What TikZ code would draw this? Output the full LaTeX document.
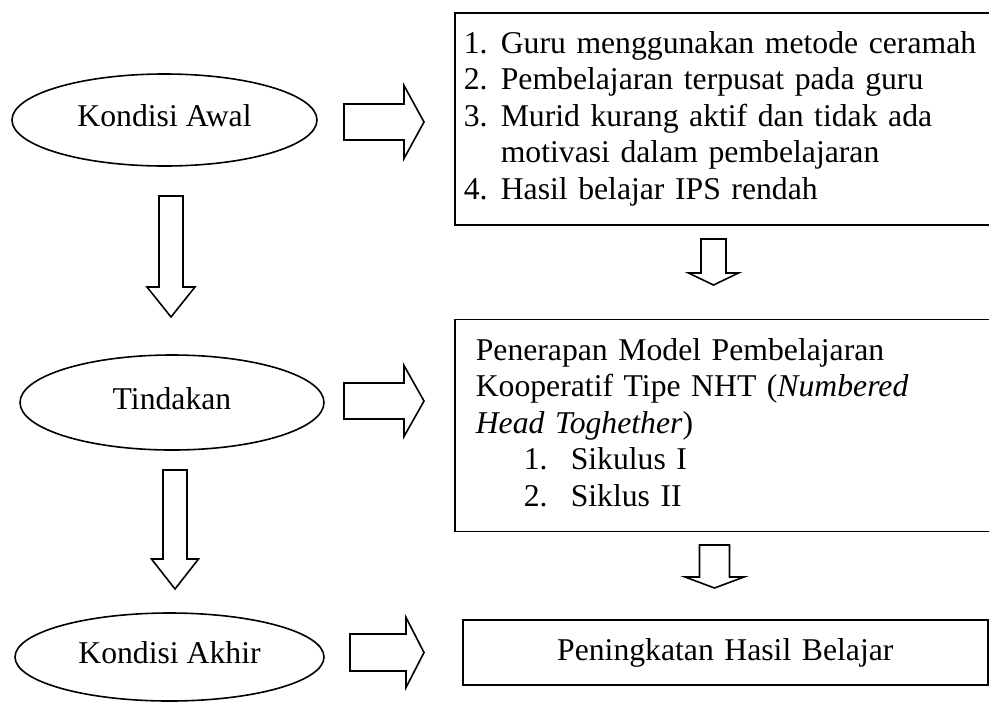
\documentclass[tikz,border=0pt]{standalone}
\usepackage{fontspec}
\setmainfont{Liberation Serif}
\usepackage{tikz}
\usetikzlibrary{positioning, shapes.geometric}
% block arrows: start coordinate, shaft length, head length, shaft half width, head half width
\newcommand{\ArrowRight}[5]{\draw[fatarrow] (#1) ++(0,-#4) -- ++(#2,0) -- ++(0,#4-#5) -- ++(#3,#5) -- ++(-#3,#5) -- ++(0,#4-#5) -- ++(-#2,0) -- cycle;}
\newcommand{\ArrowDown}[5]{\draw[fatarrow] (#1) ++(-#4,0) -- ++(0,#2) -- ++(#4-#5,0) -- ++(#5,#3) -- ++(#5,-#3) -- ++(#4-#5,0) -- ++(0,-#2) -- cycle;}
\tikzset{
    phase/.style={ellipse, draw, inner sep=0pt, line width=0.8pt, text depth=4.5pt},
    detail/.style={rectangle, draw, line width=0.8pt, align=left, minimum height=106pt},
    fatarrow/.style={draw, line width=0.8pt, line join=miter},
}

\begin{document}
\begin{tikzpicture}[x=0.5pt, y=-0.5pt, font=\fontsize{15.85}{18.25}\selectfont]
    \useasboundingbox (0,0) rectangle (989,702);

    \node[phase, minimum width=152.5pt, minimum height=46pt] (awal) at (164.5,120) {Kondisi Awal};
    \node[phase, minimum width=152pt, minimum height=47.5pt] (tindakan) at (172,402.5) {Tindakan};
    \node[phase, minimum width=154.5pt, minimum height=44pt] (akhir) at (169.5,657) {Kondisi Akhir};

    \node[detail, anchor=north west, text width=259.5pt, inner xsep=4.5pt] (masalah) at (454,12) {%
      \makebox[18.5pt][l]{1.}Guru menggunakan metode ceramah\\
      \makebox[18.5pt][l]{2.}Pembelajaran terpusat pada guru\\
      \makebox[18.5pt][l]{3.}Murid kurang aktif dan tidak ada\\
      \hspace*{18.5pt}motivasi dalam pembelajaran\\
      \makebox[18.5pt][l]{4.}Hasil belajar IPS rendah};
    \node[detail, below=46.5pt of masalah, text width=247.5pt, inner xsep=10.5pt] (model) {%
      Penerapan Model Pembelajaran\\
      Kooperatif Tipe NHT (\textit{Numbered}\\
      \textit{Head Toghether})\\
      \hspace*{24pt}\makebox[23.5pt][l]{1.}Sikulus I\\
      \hspace*{24pt}\makebox[23.5pt][l]{2.}Siklus II\vphantom{j}};
    \node[detail, below=43.5pt of model, xshift=1pt, align=center, text width=262.5pt, inner xsep=0pt, minimum height=32.5pt] (hasil) {Peningkatan Hasil Belajar};

    \coordinate (r1) at (344,122);
    \coordinate (r2) at (344,401);
    \coordinate (r3) at (350,652.5);
    \coordinate (d1) at (171,196);
    \coordinate (d2) at (175,470);
    \coordinate (d3) at (713.5,239);
    \coordinate (d4) at (714.5,545);

    \ArrowRight{r1}{60}{20}{18}{36.5}
    \ArrowRight{r2}{60}{20}{18}{35.5}
    \ArrowRight{r3}{56}{18}{18.5}{35}
    \ArrowDown{d1}{91}{30}{12}{24}
    \ArrowDown{d2}{89}{30}{12}{23.5}
    \ArrowDown{d3}{34}{12}{12.5}{25}
    \ArrowDown{d4}{32}{11}{15}{29.5}
\end{tikzpicture}
\end{document}
